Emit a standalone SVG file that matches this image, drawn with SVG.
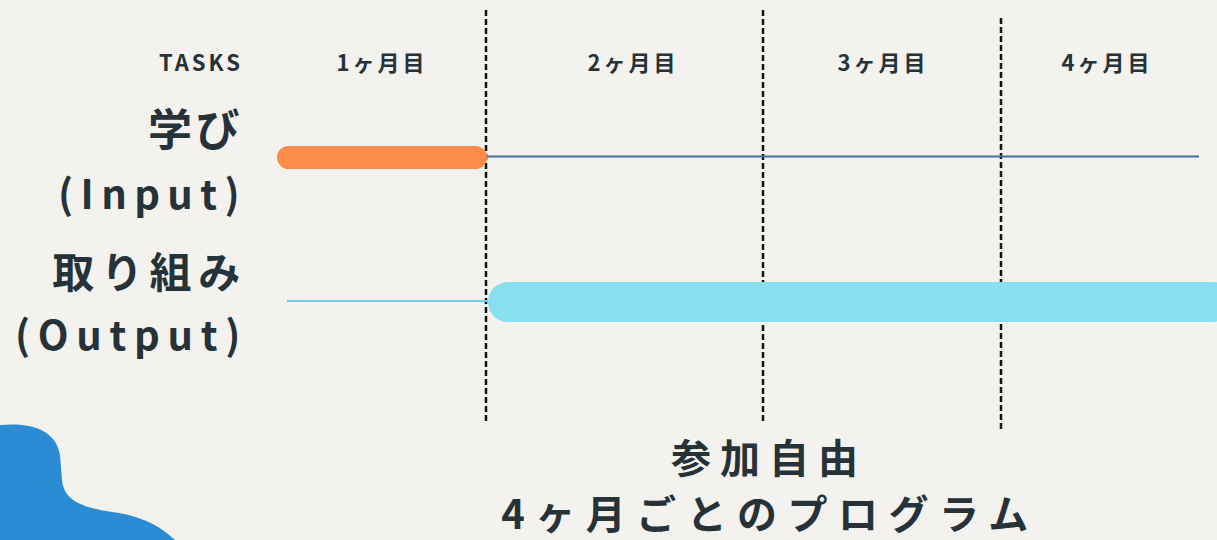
<svg xmlns="http://www.w3.org/2000/svg" width="1217" height="540" viewBox="0 0 1217 540">
<style>
.t{font-family:"Noto Sans CJK JP","Noto Sans",sans-serif;font-weight:700;fill:#263238}
.hd{font-size:22px;letter-spacing:3px}
.lb{font-size:40px}
.dash{stroke:#111;stroke-width:2.5;stroke-dasharray:6 3;fill:none}
</style>
<rect width="1217" height="540" fill="#f4f2ee"/>
<g id="blob"><path d="M0,425 C32,422 56,430 60,455 L62,480 C64,500 80,507 112,512 C142,516 160,526 175,540 L0,540 Z" fill="#2b8bd5"/></g>
<g id="gridlines">
<line class="dash" x1="486" y1="10" x2="486" y2="422"/>
<line class="dash" x1="763" y1="10" x2="763" y2="422"/>
<line class="dash" x1="1001" y1="18" x2="1001" y2="432"/>
</g>
<g id="connectors">
<line x1="486" y1="156.5" x2="1199" y2="156.5" stroke="#4a6c9b" stroke-width="2"/>
<line x1="287" y1="301" x2="488" y2="301" stroke="#6fd0e3" stroke-width="2"/>
</g>
<g id="bar-input"><rect x="277" y="146" width="210" height="23" rx="11.5" fill="#fa8c47"/></g>
<g id="bar-output"><rect x="488" y="282" width="745" height="40" rx="20" fill="#87dff0"/></g>
<g id="headers">
<text class="t" x="243" y="71" text-anchor="end" style="font-size:22px;letter-spacing:3px">TASKS</text>
<text class="t hd" x="382" y="71" text-anchor="middle">1ヶ月目</text>
<text class="t hd" x="633" y="71" text-anchor="middle">2ヶ月目</text>
<text class="t hd" x="883" y="71" text-anchor="middle">3ヶ月目</text>
<text class="t hd" x="1107" y="71" text-anchor="middle">4ヶ月目</text>
</g>
<g id="task-input">
<text class="t" x="243" y="146" text-anchor="end" style="font-size:44px;letter-spacing:3.5px">学び</text>
<text class="t lb" x="247" y="209" text-anchor="end" style="letter-spacing:7.4px">(Input)</text>
</g>
<g id="task-output">
<text class="t" x="247" y="288" text-anchor="end" style="font-size:42px;letter-spacing:6.7px">取り組み</text>
<text class="t lb" x="248" y="350" text-anchor="end" style="letter-spacing:7.7px">(Output)</text>
</g>
<g id="caption">
<text class="t" x="769" y="473" text-anchor="middle" style="font-size:40px;letter-spacing:9px">参加自由</text>
<text class="t" x="770" y="529" text-anchor="middle" style="font-size:40px;letter-spacing:10.5px">4ヶ月ごとのプログラム</text>
</g>
</svg>
